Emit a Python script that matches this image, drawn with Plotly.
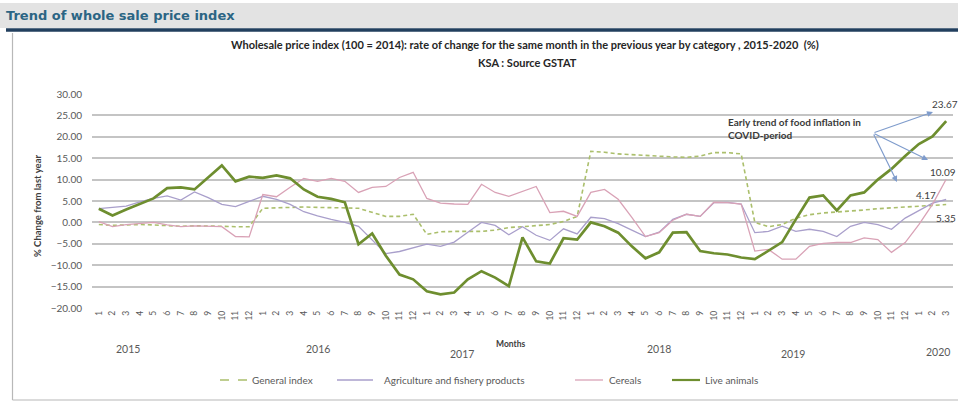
import plotly.graph_objects as go

# ---- data: year-on-year % change of the wholesale price index (100 = 2014), Jan 2015 - Mar 2020 ----
years = [2015, 2016, 2017, 2018, 2019, 2020]
month_numbers = ["1", "2", "3", "4", "5", "6", "7", "8", "9", "10", "11", "12"]
periods = [f"{y}-{m}" for y in years for m in month_numbers][:63]
month_ticks = [p.split("-")[1] for p in periods]

general_index = [
    -0.5, -0.7, -0.6, -0.5, -0.6, -0.7, -0.9, -0.8, -0.8, -0.9, -1.0, -1.0,
    3.3, 3.4, 3.5, 3.6, 3.5, 3.5, 3.4, 3.3, 2.3, 1.4, 1.4, 1.9,
    -2.8, -2.2, -2.1, -2.1, -2.1, -1.8, -1.2, -1.0, -0.8, -0.5, 0.2, 1.4,
    16.6, 16.4, 16.0, 15.8, 15.6, 15.4, 15.3, 15.2, 15.5, 16.3, 16.3, 16.0,
    0.0, -1.0, -0.5, 1.0, 1.8, 2.2, 2.4, 2.6, 2.9, 3.2, 3.4, 3.6,
    3.8, 4.0, 4.17,
]
agriculture_fishery = [
    3.2, 3.5, 3.8, 4.8, 5.6, 6.2, 5.2, 7.1, 5.8, 4.2, 3.7, 4.9,
    6.1, 5.4, 4.2, 2.5, 1.5, 0.7, 0.0, -0.9, -4.0, -7.3, -6.8, -6.0,
    -5.1, -5.6, -4.6, -2.3, 0.0, -0.7, -2.9, -1.0, -3.0, -4.2, -1.5, -2.7,
    1.2, 0.9, -0.3, -1.8, -3.3, -2.3, 0.7, 1.9, 1.4, 4.6, 4.7, 4.3,
    -2.4, -2.1, -0.9, -2.1, -1.6, -2.1, -3.3, -0.9, 0.0, -0.5, -1.6, 1.0,
    2.8, 4.5, 5.35,
]
cereals = [
    0.2, -1.0, -0.5, -0.2, 0.0, -0.6, -1.0, -0.8, -0.9, -1.0, -3.3, -3.4,
    6.5, 6.0, 8.2, 10.3, 9.6, 10.3, 9.6, 7.0, 8.2, 8.4, 10.5, 11.7,
    5.6, 4.5, 4.3, 4.2, 8.9, 7.0, 6.1, 7.2, 8.4, 2.3, 2.6, 1.4,
    7.0, 7.7, 5.4, 1.2, -3.3, -2.4, 0.5, 1.9, 1.4, 4.7, 4.6, 4.3,
    -6.7, -6.3, -8.6, -8.6, -5.6, -4.9, -4.7, -4.7, -3.6, -4.0, -7.0, -4.7,
    -0.5, 4.2, 10.09,
]
live_animals = [
    3.2, 1.6, 3.0, 4.3, 5.6, 8.0, 8.2, 7.7, 10.5, 13.3, 9.6, 10.7,
    10.4, 11.0, 10.3, 7.7, 6.0, 5.5, 4.7, -5.1, -2.6, -7.8, -12.2, -13.3,
    -16.1, -16.8, -16.4, -13.3, -11.4, -12.9, -14.9, -3.5, -9.1, -9.6, -3.7, -4.0,
    0.0, -0.9, -2.4, -5.6, -8.4, -7.0, -2.4, -2.3, -6.7, -7.2, -7.5, -8.2,
    -8.6, -6.7, -4.6, 0.7, 5.8, 6.3, 2.8, 6.3, 7.0, 10.0, 12.5, 15.5,
    18.3, 20.1, 23.67,
]

series_names = ["General index", "Agriculture and fishery products", "Cereals", "Live animals"]
series_colors = ["#abbf6c", "#a99fcb", "#d9a2b6", "#6e8e2f"]
series_widths = [1.6, 1.3, 1.3, 2.7]
series_dash = ["4px,3px", "solid", "solid", "solid"]
y_ticks = [30, 25, 20, 15, 10, 5, 0, -5, -10, -15, -20]

# ---- geometry helpers (plot area in pixels: x 92..953, y 94..308) ----
W, H = 958, 410
L, R, T, B = 92, 5, 94, 102
PW, PH = W - L - R, H - T - B


def fx(px):
    return (px - L) / PW


def fy(py):
    return (H - B - py) / PH


FONT = "Lato, 'Open Sans', sans-serif"
x_idx = list(range(len(periods)))

fig = go.Figure()
for name, vals, col, wd, ds in zip(
    series_names, [general_index, agriculture_fishery, cereals, live_animals],
    series_colors, series_widths, series_dash,
):
    fig.add_trace(go.Scatter(
        x=x_idx, y=vals, name=name, mode="lines",
        line=dict(color=col, width=wd, dash=ds), showlegend=False,
    ))

annotations = []
shapes = []

# header band text
annotations.append(dict(
    text="<b>Trend of whole sale price index</b>", xref="paper", yref="paper",
    x=fx(4), y=fy(15), xanchor="left", yanchor="middle", showarrow=False,
    font=dict(family="DejaVu Sans, sans-serif", size=13, color="#2b6584"),
))
# chart title
annotations.append(dict(
    text="<b>Wholesale price index (100 = 2014): rate of change for the same month in the previous year by category , 2015-2020  (%)</b>",
    xref="paper", yref="paper", x=fx(525), y=fy(44), xanchor="center", yanchor="middle",
    showarrow=False, font=dict(family=FONT, size=11, color="#262626"),
))
annotations.append(dict(
    text="<b>KSA : Source GSTAT</b>", xref="paper", yref="paper", x=fx(527), y=fy(62),
    xanchor="center", yanchor="middle", showarrow=False,
    font=dict(family=FONT, size=11, color="#262626"),
))
# y axis title
annotations.append(dict(
    text="<b>% Change from last year</b>", xref="paper", yref="paper", x=fx(37), y=fy(206),
    xanchor="center", yanchor="middle", textangle=-90, showarrow=False,
    font=dict(family=FONT, size=9.5, color="#404040"),
))
# year labels under the month ticks
year_pos = [(2.1, 349), (16.0, 349), (26.6, 354), (41.0, 349), (50.8, 354), (61.4, 352)]
for yr, (xi, py) in zip(years, year_pos):
    annotations.append(dict(
        text=str(yr), xref="x", yref="paper", x=xi, y=fy(py), xanchor="center",
        yanchor="middle", showarrow=False, font=dict(family=FONT, size=10.5, color="#595959"),
    ))
annotations.append(dict(
    text="<b>Months</b>", xref="paper", yref="paper", x=fx(510), y=fy(344),
    xanchor="center", yanchor="middle", showarrow=False,
    font=dict(family=FONT, size=8.5, color="#404040"),
))

# call-out text and arrows
annotations.append(dict(
    text="<b>Early trend of food inflation in<br>COVID-period</b>", xref="paper", yref="paper",
    x=fx(726), y=fy(128), xanchor="left", yanchor="middle", align="left", showarrow=False,
    font=dict(family=FONT, size=10, color="#3a3a3a"),
))
tail = (873, 133)
for hx, hy in [(933, 112), (928, 160), (897, 182)]:
    annotations.append(dict(
        text="", xref="paper", yref="paper", x=fx(hx), y=fy(hy),
        ax=tail[0] - hx, ay=tail[1] - hy, showarrow=True, arrowhead=2,
        arrowsize=1, arrowwidth=1.2, arrowcolor="#7f9ccc",
    ))

# end-of-series value labels
last = len(periods) - 1
end_labels = [
    (live_animals[-1], -16, 17),
    (cereals[-1], -18, 7),
    (general_index[-1], -32, 10),
    (agriculture_fishery[-1], -12, -18),
]
for val, xs, ys in end_labels:
    annotations.append(dict(
        text=f"{val:.2f}", xref="x", yref="y", x=last, y=val, xshift=xs, yshift=ys,
        xanchor="left", yanchor="middle", showarrow=False,
        font=dict(family=FONT, size=10, color="#404040"),
    ))

# legend row drawn as line samples + labels
legend_items = [(220, 247, 250), (337, 373, 382), (575, 603, 607), (672, 700, 703)]
for (x0, x1, tx), name, col, wd, ds in zip(
    legend_items, series_names, series_colors, series_widths, series_dash,
):
    shapes.append(dict(
        type="line", xref="paper", yref="paper", x0=fx(x0), x1=fx(x1), y0=fy(380), y1=fy(380),
        line=dict(color=col, width=min(wd, 2.2), dash="dash" if ds != "solid" else "solid"),
    ))
    annotations.append(dict(
        text=name, xref="paper", yref="paper", x=fx(tx), y=fy(380), xanchor="left",
        yanchor="middle", showarrow=False, font=dict(family=FONT, size=10, color="#595959"),
    ))

shapes += [
    # grey header band and dark rule under it
    dict(type="rect", xref="paper", yref="paper", x0=fx(0), x1=fx(W), y0=fy(28), y1=fy(3),
         fillcolor="#e3e3e3", line=dict(width=0), layer="below"),
    dict(type="line", xref="paper", yref="paper", x0=fx(6), x1=fx(W), y0=fy(30), y1=fy(30),
         line=dict(color="#223f5e", width=3.5)),
    # chart frame
    dict(type="line", xref="paper", yref="paper", x0=fx(12.5), x1=fx(12.5), y0=fy(33), y1=fy(400),
         line=dict(color="#b8b8b8", width=1.2)),
    dict(type="line", xref="paper", yref="paper", x0=fx(12.5), x1=fx(W), y0=fy(400), y1=fy(400),
         line=dict(color="#b8b8b8", width=1.2)),
]

fig.update_layout(
    width=W, height=H,
    margin=dict(l=L, r=R, t=T, b=B),
    paper_bgcolor="white", plot_bgcolor="white",
    font=dict(family=FONT, color="#595959"),
    showlegend=False,
    annotations=annotations,
    shapes=shapes,
)
fig.update_xaxes(
    range=[-0.5, last + 0.5], tickmode="array", tickvals=x_idx, ticktext=month_ticks,
    tickangle=-90, tickfont=dict(family=FONT, size=8.5, color="#595959"),
    showgrid=False, zeroline=False, showline=False, ticks="",
)
fig.update_yaxes(
    range=[-20, 30], tickmode="array", tickvals=y_ticks, tickformat=".2f",
    tickfont=dict(family=FONT, size=10, color="#595959"), ticklabelstandoff=9,
    showgrid=True, gridcolor="#c4c4c4", gridwidth=1.5, zeroline=False, showline=False, ticks="",
)

fig.write_html("out.html")
